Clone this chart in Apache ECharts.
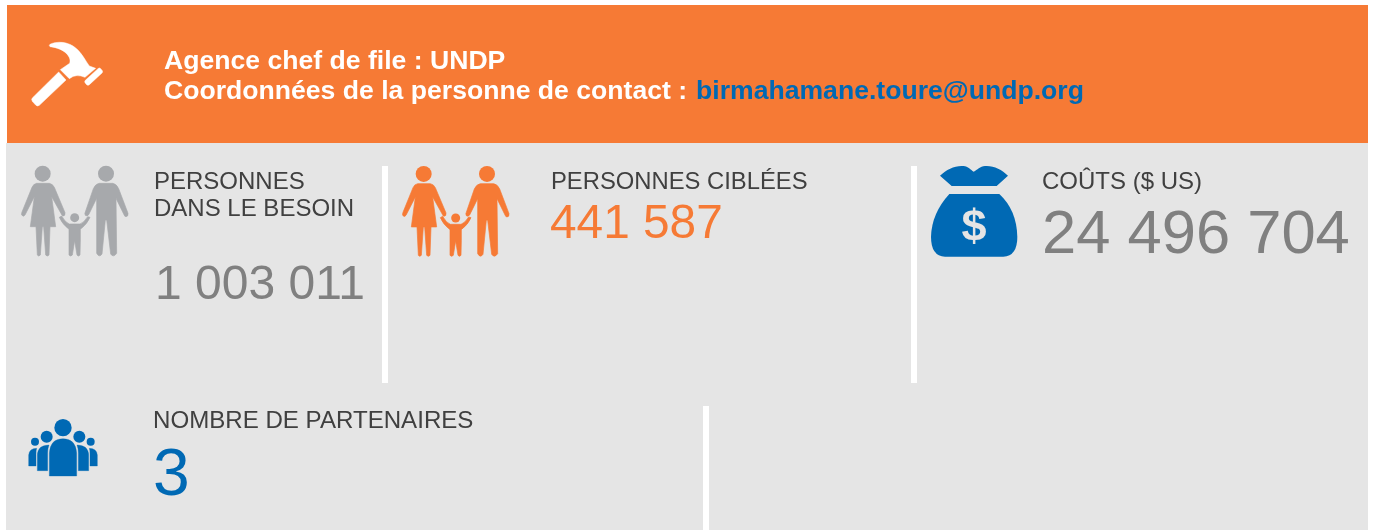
<!DOCTYPE html>
<html><head><meta charset="utf-8">
<style>html,body{margin:0;padding:0;background:#fff}#c{width:1373px;height:530px}</style>
<script src="https://cdn.jsdelivr.net/npm/echarts@6/dist/echarts.min.js"></script>
</head><body><div id="c"></div>
<script>
const headerLines = ['Agence chef de file : UNDP', 'Coordonnées de la personne de contact : '];
const contactEmail = 'birmahamane.toure@undp.org';
const needLabel = ['PERSONNES', 'DANS LE BESOIN'];
const needValue = '1 003 011';
const targetLabel = 'PERSONNES CIBLÉES';
const targetValue = '441 587';
const costLabel = 'COÛTS ($ US)';
const costValue = '24 496 704';
const partnerLabel = 'NOMBRE DE PARTENAIRES';
const partnerValue = '3';

const FONT = '"Liberation Sans"';
const ORANGE = '#f67a35', GREY = '#e5e5e5', BLUE = '#0069b4', NUM = '#808080', DARK = '#404040', ICON = '#a7a9ac';

const SHAPES = {
  woman: 'M110 550L148 550Q158 552 163 562L195 638Q196 648 189 648Q186 648 184 642L155 590L167 680L150 680L147 765Q142 771 137 765L131 680L127 680L121 765Q116 771 112 765L108 680L91 680L103 590L75 645Q70 652 65 645Q64 640 66 636L96 562Q100 552 110 550Z',
  man: 'M298 550L338 550Q350 552 356 566L384 640Q385 650 378 650Q374 650 372 644L348 595L350 760Q340 774 332 762L320 660L316 660L306 762Q298 774 290 760L290 595L266 644Q261 650 256 646Q253 640 256 636L280 566Q286 552 298 550Z',
  child: 'M208 672L240 672Q252 668 263 650L270 652Q262 672 241 688L241 720L240 765Q235 771 231 765L224 722L217 765Q212 771 207 765L207 688Q186 672 178 652L185 648Q196 668 208 672Z',
  hammerHead: 'M150 133C170 123 205 124 228 145C245 158 258 185 268 198L287 205L255 232Q228 220 208 236L181 209L209 190C216 172 195 145 150 140Q146 136 150 133Z',
  hammerFace: 'M294 206Q298 202 302 206L307 212Q309 216 306 219L268 254Q264 257 260 254L255 248Q253 244 256 241Z',
  hammerHandle: 'M176 216L198 240L118 316Q112 320 107 315L97 304Q93 298 97 294Z',
  bagTop: 'M120 77C140 58 165 46 190 48C205 49 212 60 221 65C232 60 240 49 255 48C280 46 305 58 324 77L290 108L155 108Z',
  bagBody: 'M148 132L298 132Q350 180 352 260Q352 318 310 320L135 320Q93 318 93 260Q95 190 148 132Z',
  peopleBodies: 'M148 228L148 160Q150 116 189 116Q228 116 230 160L230 228Z' +
    'M143 212L112 212L112 165Q113 135 147 135Q143 145 143 160Z' +
    'M235 212L266 212L266 165Q265 135 231 135Q235 145 235 160Z' +
    'M108 198L86 198L86 165Q88 145 110 145Q108 150 108 165Z' +
    'M270 198L292 198L292 165Q290 145 268 145Q270 150 270 165Z'
};
Object.keys(SHAPES).forEach(n => echarts.graphic.registerShape(n, echarts.graphic.extendPath(SHAPES[n], {})));

function rect(x, y, w, h, fill) {
  return { type: 'rect', shape: { x, y, width: w, height: h }, style: { fill }, silent: true };
}
function text(x, y, str, size, fill, weight) {
  return { type: 'text', x, y, silent: true, style: { text: str, fill, fontFamily: FONT, fontSize: size, fontWeight: weight || 'normal', verticalAlign: 'middle', align: 'left' } };
}
function icon(ox, oy, color, names, heads, stroke) {
  const style = { fill: color, stroke: stroke ? color : null, lineWidth: stroke || 0 };
  const children = names.map(n => ({ type: n, style, silent: true }));
  heads.forEach(h => children.push({ type: 'circle', shape: { cx: h[0], cy: h[1], r: h[2] }, style: { fill: color }, silent: true }));
  return { type: 'group', x: ox, y: oy, scaleX: 1 / 3, scaleY: 1 / 3, children };
}
const familyHeads = [[128, 521, 24], [318, 521, 24], [224, 653, 13.5]];

const elements = [
  rect(7, 5, 1361, 138, ORANGE),
  rect(6, 143, 1362, 387, GREY),
  rect(382, 166, 6, 217, '#fff'),
  rect(911, 166, 6, 217, '#fff'),
  rect(703, 406, 6, 124, '#fff'),
  icon(0, 0, '#fff', ['hammerHead', 'hammerFace', 'hammerHandle'], [], 1.5),
  icon(0, 0, ICON, ['woman', 'man', 'child'], familyHeads, 2),
  icon(381, 0.3, ORANGE, ['woman', 'man', 'child'], familyHeads, 2),
  icon(900, 150, BLUE, ['bagTop', 'bagBody'], []),
  icon(0, 400, BLUE, ['peopleBodies'], [[189, 83, 26], [140, 110, 18], [238, 110, 18], [105, 125, 12], [272, 125, 12]], 1),
  text(961.5, 229, '$', 45, GREY, 'bold'),
  text(164, 61.5, headerLines[0], 26.6, '#fff', 'bold'),
  text(164, 92, headerLines[1], 26.6, '#fff', 'bold'),
  text(696, 92, contactEmail, 26.6, BLUE, 'bold'),
  text(154, 182, needLabel[0], 24, DARK),
  text(154, 209, needLabel[1], 24, DARK),
  text(155, 286, needValue, 48, NUM),
  text(551, 182, targetLabel, 23.8, DARK),
  text(550, 225, targetValue, 47.8, ORANGE),
  text(1042, 182, costLabel, 24, DARK),
  text(1042, 236, costValue, 61.5, NUM),
  text(153, 421, partnerLabel, 24.1, DARK),
  text(153, 477, partnerValue, 66, BLUE)
];

const chart = echarts.init(document.getElementById('c'), null, { renderer: 'canvas' });
chart.setOption({ animation: false, backgroundColor: '#fff', graphic: { elements } });
</script>
</body></html>
